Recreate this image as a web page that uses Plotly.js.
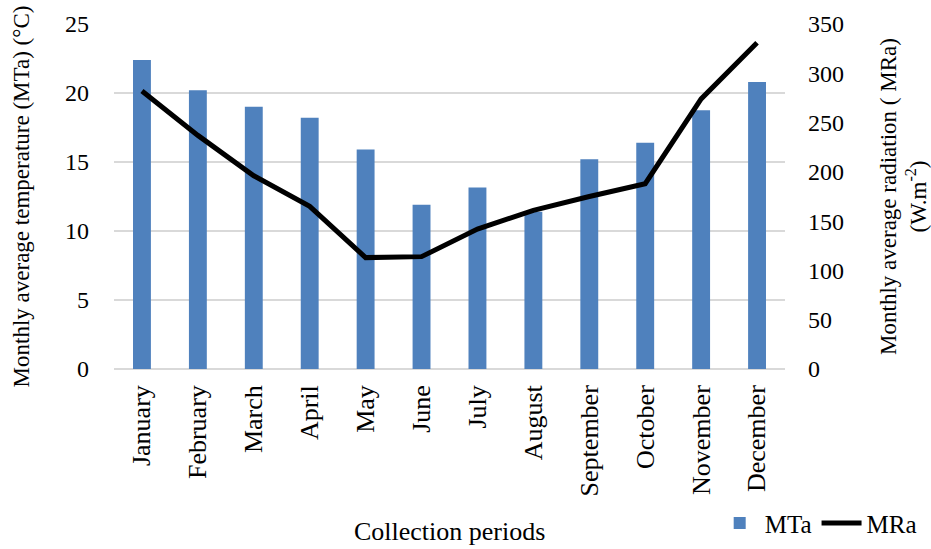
<!DOCTYPE html>
<html>
<head>
<meta charset="utf-8">
<script src="https://cdn.plot.ly/plotly-3.0.1.min.js"></script>
<style>html,body{margin:0;padding:0;background:#fff;}#chart{width:931px;height:549px;}</style>
</head>
<body>
<div id="chart"></div>
<script>
const months = ["January","February","March","April","May","June","July","August","September","October","November","December"];
const mta = [22.4, 20.2, 19.0, 18.2, 15.9, 11.9, 13.15, 11.4, 15.2, 16.4, 18.75, 20.8];
const mra = [282, 237, 196, 165, 113, 114, 142, 161, 175, 188, 274, 331];
const leftTicks = [0, 5, 10, 15, 20, 25];
const rightTicks = [0, 50, 100, 150, 200, 250, 300, 350];

const FAM = "'Liberation Serif', 'Times New Roman', serif";
const f = (size) => ({family: FAM, size: size, color: "#000"});
const data = [
  {type: "bar", name: "MTa", x: months, y: mta, marker: {color: "#4f81bd"}, yaxis: "y"},
  {type: "scatter", mode: "lines", name: "MRa", x: months, y: mra, line: {color: "#000", width: 5}, yaxis: "y2"}
];
const layout = {
  width: 931, height: 549,
  margin: {l: 114, r: 146, t: 24, b: 180},
  paper_bgcolor: "#fff", plot_bgcolor: "#fff",
  font: f(24),
  bargap: 0.68,
  showlegend: true,
  legend: {orientation: "h", xref: "container", yref: "container", x: 0.99, xanchor: "right", y: 0.005, yanchor: "bottom", font: f(25), itemwidth: 40, bgcolor: "rgba(0,0,0,0)"},
  annotations: [{
    text: "Collection periods", xref: "paper", yref: "paper",
    x: 0.5, xanchor: "center", y: -0.47, yanchor: "middle", borderpad: 0,
    showarrow: false, font: f(26)
  }],
  xaxis: {
    automargin: false,
    tickangle: -90, showgrid: false, showline: false, zeroline: false,
    ticks: "", tickfont: f(26), ticklabelstandoff: 10
  },
  yaxis: {
    automargin: false,
    range: [0, 25], tickvals: leftTicks, showgrid: true, gridcolor: "#d9d9d9", gridwidth: 2,
    zeroline: true, zerolinecolor: "#d9d9d9", zerolinewidth: 2, showline: false,
    ticks: "", ticklabelstandoff: 24, tickfont: f(24),
    title: {text: "Monthly average temperature (MTa) (°C)", font: f(23), standoff: 28}
  },
  yaxis2: {
    automargin: false,
    range: [0, 350], tickvals: rightTicks, overlaying: "y", side: "right",
    showgrid: false, zeroline: false, showline: false, ticks: "", ticklabelstandoff: 22,
    tickfont: f(24),
    title: {text: "Monthly average radiation ( MRa)<br>(W.m<sup>-2</sup>)", font: f(23), standoff: 37}
  }
};
Plotly.newPlot("chart", data, layout, {staticPlot: true, displayModeBar: false});
</script>
</body>
</html>
